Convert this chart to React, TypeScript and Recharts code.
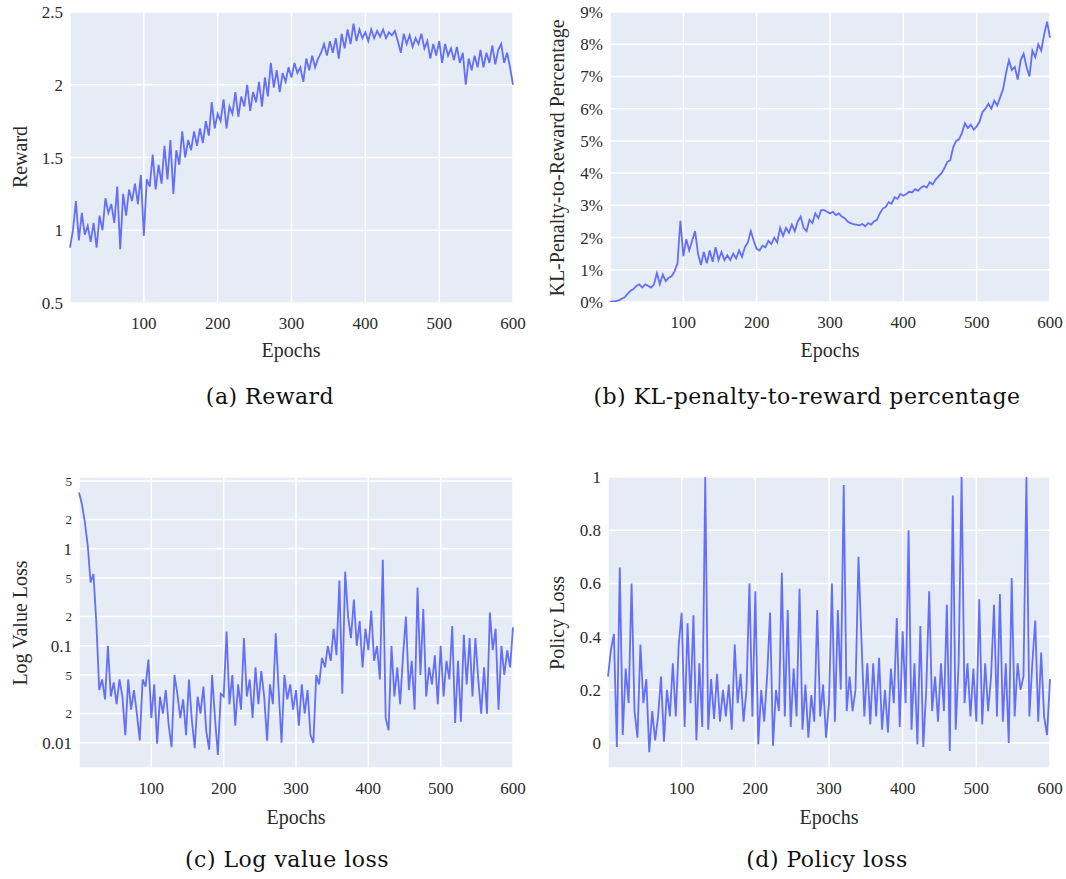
import { CartesianGrid, Line, LineChart, XAxis, YAxis } from "recharts";

// epochs sampled every 4 steps, 0..600
const EPOCHS = Array.from({ length: 151 }, (_, i) => i * 4);
const X_TICKS = [100, 200, 300, 400, 500, 600];

const REWARD = [
    0.88, 1.0, 1.2, 0.93, 1.12, 0.97, 1.03, 0.92, 1.05, 0.88,
    1.1, 1.0, 1.22, 1.12, 1.18, 1.05, 1.3, 0.87, 1.25, 1.1,
    1.28, 1.2, 1.32, 1.18, 1.38, 0.96, 1.35, 1.3, 1.52, 1.28,
    1.45, 1.32, 1.58, 1.35, 1.62, 1.25, 1.55, 1.45, 1.68, 1.5,
    1.62, 1.55, 1.68, 1.58, 1.7, 1.6, 1.75, 1.65, 1.88, 1.7,
    1.8, 1.75, 1.9, 1.7, 1.85, 1.8, 1.95, 1.78, 1.92, 1.85,
    2.0, 1.82, 1.95, 1.88, 2.02, 1.85, 2.05, 1.92, 2.15, 1.98,
    2.1, 1.95, 2.08, 2.02, 2.12, 2.05, 2.15, 2.08, 2.12, 2.02,
    2.18, 2.1, 2.2, 2.12, 2.18, 2.22, 2.28, 2.2, 2.3, 2.22,
    2.32, 2.18, 2.35, 2.25, 2.38, 2.28, 2.42, 2.3, 2.38, 2.32,
    2.36, 2.3, 2.38, 2.32, 2.37, 2.33, 2.38, 2.32, 2.36, 2.34,
    2.37, 2.3, 2.22, 2.35, 2.28, 2.34, 2.26, 2.32, 2.28, 2.35,
    2.25, 2.3, 2.18, 2.28, 2.2, 2.3, 2.15, 2.28, 2.2, 2.25,
    2.17, 2.26, 2.15, 2.22, 2.0, 2.18, 2.1, 2.2, 2.12, 2.24,
    2.12, 2.22, 2.15, 2.27, 2.14, 2.24, 2.28, 2.15, 2.22, 2.12,
    2.0,
];

const KL_PERCENT = [
    0, 0.02, 0.03, 0.05, 0.1, 0.15, 0.25, 0.35, 0.4, 0.5,
    0.55, 0.45, 0.55, 0.5, 0.45, 0.55, 0.9, 0.55, 0.85, 0.65,
    0.75, 0.8, 0.95, 1.2, 2.52, 1.42, 1.95, 1.6, 1.9, 2.2,
    1.5, 1.15, 1.55, 1.2, 1.6, 1.25, 1.7, 1.3, 1.55, 1.3,
    1.45, 1.3, 1.5, 1.35, 1.6, 1.4, 1.7, 1.85, 2.2, 1.9,
    1.65, 1.6, 1.75, 1.7, 1.9, 1.8, 2.0, 1.85, 2.3, 2.05,
    2.3, 2.15, 2.4, 2.2, 2.5, 2.65, 2.3, 2.2, 2.55, 2.45,
    2.75, 2.6, 2.85, 2.85, 2.8, 2.75, 2.8, 2.7, 2.75, 2.65,
    2.6, 2.5, 2.45, 2.42, 2.4, 2.38, 2.42, 2.35, 2.45, 2.4,
    2.5, 2.55, 2.75, 2.9, 2.95, 3.1, 3.05, 3.25, 3.2, 3.35,
    3.3, 3.35, 3.42, 3.4, 3.5, 3.45, 3.55, 3.6, 3.55, 3.72,
    3.65, 3.8, 3.9, 4.0, 4.15, 4.35, 4.4, 4.8, 5.0, 5.05,
    5.25, 5.55, 5.4, 5.5, 5.35, 5.45, 5.6, 5.9, 6.0, 6.15,
    6.0, 6.25, 6.1, 6.35, 6.6, 7.1, 7.5, 7.2, 7.3, 6.9,
    7.5, 7.7, 7.3, 7.0, 7.8, 7.6, 8.0, 7.8, 8.3, 8.7,
    8.2,
];

const VALUE_LOSS = [
    3.8, 2.9, 1.9, 1.1, 0.45, 0.55, 0.17, 0.035, 0.045, 0.028,
    0.1, 0.03, 0.042, 0.025, 0.045, 0.03, 0.012, 0.045, 0.022, 0.035,
    0.02, 0.0106, 0.045, 0.038, 0.072, 0.018, 0.04, 0.0098, 0.03, 0.02,
    0.035, 0.015, 0.009, 0.05, 0.032, 0.018, 0.028, 0.012, 0.045, 0.017,
    0.0088, 0.03, 0.02, 0.038, 0.013, 0.0085, 0.05, 0.018, 0.0075, 0.032,
    0.03, 0.14, 0.025, 0.05, 0.015, 0.04, 0.022, 0.12, 0.03, 0.045,
    0.018, 0.06, 0.025, 0.055, 0.03, 0.0105, 0.04, 0.025, 0.135, 0.035,
    0.01, 0.05, 0.028, 0.04, 0.022, 0.035, 0.015, 0.04, 0.02, 0.035,
    0.012, 0.01, 0.05, 0.04, 0.075, 0.06, 0.1, 0.07, 0.15, 0.08,
    0.47, 0.032, 0.58, 0.2, 0.12, 0.3, 0.1, 0.18, 0.06, 0.15,
    0.09, 0.23, 0.07, 0.1, 0.045, 0.77, 0.018, 0.0135, 0.1, 0.03,
    0.06, 0.025, 0.08, 0.2, 0.035, 0.07, 0.022, 0.4, 0.05, 0.24,
    0.03, 0.06, 0.04, 0.08, 0.025, 0.1, 0.03, 0.07, 0.045, 0.16,
    0.016, 0.07, 0.0165, 0.13, 0.04, 0.12, 0.03, 0.12, 0.045, 0.02,
    0.06, 0.02, 0.22, 0.09, 0.15, 0.022, 0.1, 0.05, 0.09, 0.06,
    0.155,
];

const POLICY_LOSS = [
    0.25, 0.35, 0.41, -0.015, 0.66, 0.03, 0.28, 0.15, 0.6, 0.12,
    0.02, 0.37, 0.15, 0.24, -0.035, 0.12, 0.01, 0.1, 0.25, 0.005,
    0.2, 0.1, 0.3, 0.1, 0.37, 0.49, 0.06, 0.45, 0.15, 0.48,
    0.01, 0.3, 0.06, 1.0, 0.05, 0.24, 0.09, 0.26, 0.08, 0.2,
    0.1, 0.22, 0.05, 0.37, 0.15, 0.26, 0.08, 0.2, 0.6, 0.1,
    0.57, -0.005, 0.2, 0.08, 0.25, 0.49, -0.01, 0.2, 0.12, 0.64,
    0.1, 0.5, 0.06, 0.28, 0.1, 0.58, 0.05, 0.22, 0.02, 0.18,
    0.08, 0.5, 0.1, 0.22, 0.02, 0.15, 0.6, 0.08, 0.5, 0.2,
    0.97, 0.12, 0.25, 0.12, 0.2, 0.7, 0.39, 0.1, 0.3, 0.07,
    0.3, 0.1, 0.32, 0.05, 0.2, 0.04, 0.28, 0.15, 0.47, 0.06,
    0.42, 0.15, 0.8, 0.05, 0.3, -0.005, 0.44, -0.015, 0.2, 0.57,
    0.12, 0.25, 0.08, 0.3, 0.12, 0.52, -0.03, 0.93, 0.05, 0.3,
    1.0, 0.15, 0.3, 0.1, 0.28, 0.08, 0.54, 0.07, 0.3, 0.12,
    0.25, 0.52, 0.1, 0.56, 0.08, 0.3, 0.0, 0.62, 0.1, 0.3,
    0.2, 0.25, 1.0, 0.1, 0.3, 0.46, 0.08, 0.34, 0.1, 0.03,
    0.24,
];

const REWARD_TICKS = [0.5, 1, 1.5, 2, 2.5];
const KL_TICKS = [0, 1, 2, 3, 4, 5, 6, 7, 8, 9];
const VALUE_LOSS_TICKS = [0.01, 0.02, 0.05, 0.1, 0.2, 0.5, 1, 2, 5];
const POLICY_TICKS = [0, 0.2, 0.4, 0.6, 0.8, 1];

const LINE_COLOR = "#636EFA";
const PLOT_BG = "#E5ECF6";
const TEXT_COLOR = "#2b2b2b";
const AXIS_FONT = "'Liberation Serif', 'Times New Roman', serif";
const CAPTION_FONT = "'DejaVu Serif', serif";

const tickStyle = { fontFamily: AXIS_FONT, fontSize: 17, fill: TEXT_COLOR };

const toRows = (values: number[]) => EPOCHS.map((epoch, i) => ({ epoch, value: values[i] }));

// plotly-style log ticks: decades big, 2 and 5 small
function LogTick({ x, y, payload }: any) {
    const v = payload.value;
    const decade = Math.abs(Math.log10(v) - Math.round(Math.log10(v))) < 1e-6;
    const label = decade ? String(v) : String(Math.round(v / Math.pow(10, Math.floor(Math.log10(v)))));
    return (
        <text x={x} y={y} dy="0.355em" textAnchor="end" fontFamily={AXIS_FONT} fontSize={decade ? 17 : 13} fill={TEXT_COLOR}>
            {label}
        </text>
    );
}

type PanelProps = {
    left: number;
    top: number;
    width: number;
    height: number;
    margin: { top: number; right: number; bottom: number; left: number };
    yWidth: number;
    xHeight: number;
    values: number[];
    yDomain: [number, number];
    yTicks: number[];
    yScale?: "log" | "linear";
    yFormat?: (v: number) => string;
    yTick?: any;
};

function Panel(p: PanelProps) {
    return (
        <div style={{ position: "absolute", left: p.left, top: p.top }}>
            <LineChart width={p.width} height={p.height} data={toRows(p.values)} margin={p.margin}>
                <CartesianGrid fill={PLOT_BG} fillOpacity={1} stroke="#ffffff" strokeWidth={1.5} />
                <XAxis
                    dataKey="epoch"
                    type="number"
                    domain={[0, 600]}
                    ticks={X_TICKS}
                    interval={0}
                    axisLine={false}
                    tickLine={false}
                    tickSize={0}
                    tickMargin={14}
                    height={p.xHeight}
                    tick={tickStyle}
                />
                <YAxis
                    type="number"
                    scale={p.yScale ?? "linear"}
                    domain={p.yDomain}
                    ticks={p.yTicks}
                    interval={0}
                    allowDataOverflow
                    axisLine={false}
                    tickLine={false}
                    tickSize={0}
                    tickMargin={7}
                    width={p.yWidth}
                    tick={p.yTick ?? tickStyle}
                    tickFormatter={p.yFormat}
                />
                <Line type="linear" dataKey="value" stroke={LINE_COLOR} strokeWidth={1.8} dot={false} isAnimationActive={false} />
            </LineChart>
        </div>
    );
}

function Label({ x, y, text, rotate = false, size = 20, font = AXIS_FONT, color = TEXT_COLOR, spacing = 0 }: any) {
    return (
        <div
            style={{
                position: "absolute",
                left: x,
                top: y,
                transform: `translate(-50%, -50%)${rotate ? " rotate(-90deg)" : ""}`,
                fontFamily: font,
                fontSize: size,
                letterSpacing: spacing,
                lineHeight: 1,
                whiteSpace: "nowrap",
                color,
            }}
        >
            {text}
        </div>
    );
}

function Caption({ x, y, text }: any) {
    return <Label x={x} y={y} text={text} font={CAPTION_FONT} size={22} spacing={0.5} color="#111" />;
}

export default function App() {
    return (
        <div style={{ position: "absolute", left: 0, top: 0, width: 1066, height: 879, background: "#fff" }}>
            {/* (a) reward */}
            <Panel
                left={0} top={0} width={530} height={345}
                margin={{ top: 12, right: 17, bottom: 0, left: 0 }}
                yWidth={70} xHeight={42}
                values={REWARD} yDomain={[0.5, 2.5]} yTicks={REWARD_TICKS}
            />
            <Label x={20} y={157} text="Reward" rotate />
            <Label x={291} y={350} text="Epochs" />
            <Caption x={270} y={397} text="(a) Reward" />

            {/* (b) KL penalty */}
            <Panel
                left={530} top={0} width={536} height={345}
                margin={{ top: 12, right: 16, bottom: 0, left: 0 }}
                yWidth={80} xHeight={43}
                values={KL_PERCENT} yDomain={[0, 9]} yTicks={KL_TICKS}
                yFormat={(v) => `${v}%`}
            />
            <Label x={557} y={158} text="KL-Penalty-to-Reward Percentage" rotate />
            <Label x={830} y={350} text="Epochs" />
            <Caption x={807} y={397} text="(b) KL-penalty-to-reward percentage" />

            {/* (c) log value loss */}
            <Panel
                left={0} top={460} width={530} height={345}
                margin={{ top: 17, right: 17, bottom: 0, left: 0 }}
                yWidth={79} xHeight={37}
                values={VALUE_LOSS} yDomain={[0.0055, 5.5]} yTicks={VALUE_LOSS_TICKS}
                yScale="log" yTick={<LogTick />}
            />
            <Label x={20} y={623} text="Log Value Loss" rotate />
            <Label x={296} y={817} text="Epochs" />
            <Caption x={287} y={860} text="(c) Log value loss" />

            {/* (d) policy loss */}
            <Panel
                left={530} top={460} width={536} height={345}
                margin={{ top: 17, right: 16, bottom: 0, left: 0 }}
                yWidth={78} xHeight={37}
                values={POLICY_LOSS} yDomain={[-0.094, 1]} yTicks={POLICY_TICKS}
            />
            <Label x={557} y={623} text="Policy Loss" rotate />
            <Label x={829} y={817} text="Epochs" />
            <Caption x={827} y={860} text="(d) Policy loss" />
        </div>
    );
}
